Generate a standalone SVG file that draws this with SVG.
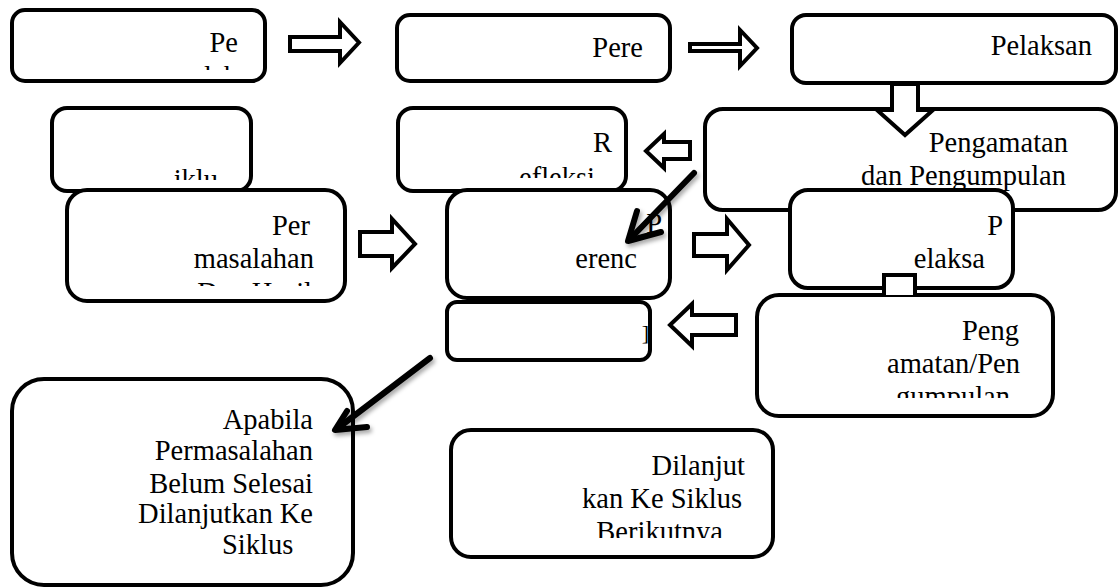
<svg xmlns="http://www.w3.org/2000/svg" width="1119" height="588" viewBox="0 0 1119 588">
<style>
.box{fill:#fff;stroke:#000;stroke-width:4}
.blk{fill:#fff;stroke:#000;stroke-width:4;stroke-linejoin:miter}
text{font-family:'Liberation Serif','DejaVu Serif',serif;font-size:28.5px;fill:#000}
.e{text-anchor:end}
.diag{fill:none;stroke:#000;stroke-width:6;stroke-linecap:round;stroke-linejoin:round}
</style>
<defs>
<filter id="sh" x="-20%" y="-20%" width="150%" height="150%">
<feDropShadow dx="2" dy="3" stdDeviation="2" flood-color="#000" flood-opacity="0.35"/>
</filter>
<clipPath id="cA"><rect x="14" y="12" width="249" height="58"/></clipPath>
<clipPath id="cE"><rect x="54" y="110" width="195" height="70"/></clipPath>
<clipPath id="cF"><rect x="400" y="110" width="224" height="68"/></clipPath>
<clipPath id="cG"><rect x="69" y="192" width="274" height="94"/></clipPath>
<clipPath id="cK"><rect x="759" y="297" width="292" height="101"/></clipPath>
<clipPath id="cM"><rect x="453" y="432" width="318" height="106"/></clipPath>
</defs>
<rect width="1119" height="588" fill="#fff"/>

<g id="node-pendahuluan">
<rect class="box" x="12" y="10" width="253" height="71" rx="13"/>
<g clip-path="url(#cA)">
<text class="e" x="238" y="52">Pe</text>
<text class="e" x="238" y="86">ndah</text>
</g>
</g>

<g id="node-perencanaan">
<rect class="box" x="397" y="15" width="273" height="66" rx="13"/>
<text class="e" x="643" y="57">Pere</text>
</g>

<g id="node-pelaksanaan">
<rect class="box" x="792" y="15" width="324" height="68" rx="14"/>
<text class="e" x="1092" y="55">Pelaksan</text>
</g>

<g id="node-siklus">
<rect class="box" x="52" y="108" width="199" height="83" rx="15"/>
<g clip-path="url(#cE)">
<text class="e" x="218" y="189">iklu</text>
</g>
</g>

<g id="node-refleksi">
<rect class="box" x="398" y="108" width="228" height="83" rx="15"/>
<text class="e" x="612" y="152">R</text>
<g clip-path="url(#cF)">
<text class="e" x="595" y="187">efleksi</text>
</g>
</g>

<g id="node-pengamatan">
<rect class="box" x="705" y="109" width="411" height="101" rx="18"/>
<text class="e" x="1068" y="152">Pengamatan</text>
<text class="e" x="1066" y="185">dan Pengumpulan</text>
</g>

<g id="node-permasalahan">
<rect class="box" x="67" y="190" width="278" height="111" rx="20"/>
<text class="e" x="310" y="235">Per</text>
<text class="e" x="314" y="268">masalahan</text>
<g clip-path="url(#cG)">
<text class="e" x="312" y="302">Dan Hasil</text>
</g>
</g>

<g id="node-perencanaan2">
<rect class="box" x="447" y="190" width="223" height="108" rx="20"/>
<text class="e" x="662" y="233">P</text>
<text class="e" x="637" y="268">erenc</text>
</g>

<g id="node-small">
<rect class="box" x="447" y="302" width="203" height="58" rx="10"/>
<text class="e" x="649" y="340" style="font-size:22px">]</text>
</g>

<g id="node-pelaksanaan2">
<rect class="box" x="790" y="190" width="223" height="98" rx="18"/>
<text class="e" x="1003" y="235">P</text>
<text class="e" x="985" y="268">elaksa</text>
</g>

<g id="node-pengamatan2">
<rect class="box" x="757" y="295" width="296" height="121" rx="22"/>
<text class="e" x="1019" y="340">Peng</text>
<text class="e" x="1020" y="373">amatan/Pen</text>
<g clip-path="url(#cK)">
<text class="e" x="1010" y="406">gumpulan</text>
</g>
</g>

<g id="node-apabila">
<rect class="box" x="12" y="379" width="341" height="206" rx="32"/>
<text class="e" x="313" y="429">Apabila</text>
<text class="e" x="313" y="460">Permasalahan</text>
<text class="e" x="313" y="493">Belum Selesai</text>
<text class="e" x="313" y="523">Dilanjutkan Ke</text>
<text x="222" y="554">Siklus</text>
</g>

<g id="node-dilanjutkan">
<rect class="box" x="451" y="430" width="322" height="127" rx="20"/>
<text class="e" x="745" y="475">Dilanjut</text>
<text class="e" x="742" y="508">kan Ke Siklus</text>
<g clip-path="url(#cM)">
<text class="e" x="723" y="541">Berikutnya</text>
</g>
</g>

<g id="connectors">
<polygon class="blk" points="290,37 340,37 340,22 359,42.5 340,63 340,51 290,51"/>
<polygon class="blk" points="690,44 740,44 740,30 757,48 740,66 740,51 690,51"/>
<polygon class="blk" points="892,84 918,84 918,110 933,110 905,135 877,110 892,110"/>
<polygon class="blk" points="646,151 664,134 664,142 690,142 690,159 664,159 664,168"/>
<polygon class="blk" points="360,232 392,232 392,219 415,244 392,268 392,256 360,256"/>
<polygon class="blk" points="694,234 727,234 727,219 749,245 727,270 727,256 694,256"/>
<polygon class="blk" points="670,325 692,304 692,315 736,315 736,335 692,335 692,346"/>
<path class="blk" d="M884,295 V275 H915 V295"/>
<g filter="url(#sh)">
<path class="diag" d="M694,173 L630,239"/>
<path class="diag" d="M637,211 L628,241 L661,232"/>
</g>
<g filter="url(#sh)">
<path class="diag" d="M430,358 L338,428"/>
<path class="diag" d="M347,411 L335,430 L367,427"/>
</g>
</g>
</svg>
